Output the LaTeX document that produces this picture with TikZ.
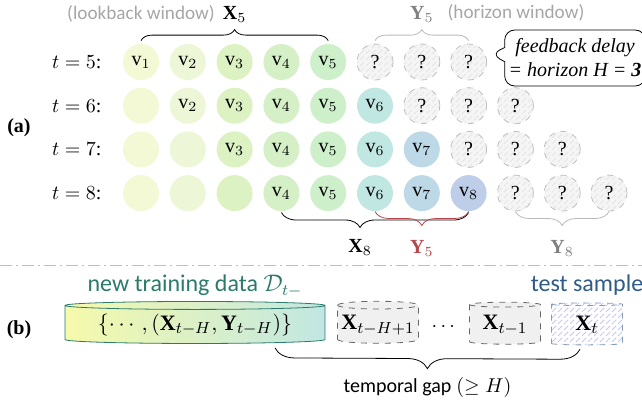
\documentclass[tikz,border=0pt]{standalone}
\usepackage{amsmath}
\usepackage{amssymb}
\usepackage{fontspec}
\setmainfont{Liberation Serif}
\setsansfont{Carlito}
\usepackage{tikz}
\usetikzlibrary{positioning, calc, decorations.pathreplacing, shapes.geometric, shapes.callouts, patterns}
\definecolor{col1}{HTML}{F3F8D5}
\definecolor{col2}{HTML}{EEF6D8}
\definecolor{col3}{HTML}{DCF2C2}
\definecolor{col4}{HTML}{D5F0C6}
\definecolor{col5}{HTML}{CDEFCA}
\definecolor{col6}{HTML}{C1E7E3}
\definecolor{col7}{HTML}{BDD8E7}
\definecolor{col8}{HTML}{BECDE8}
\definecolor{tealtxt}{HTML}{2B7A6C}
\definecolor{bluetxt}{HTML}{2F5B88}
\definecolor{redlbl}{HTML}{B5474B}
\newcommand\cylfont{\fontsize{11}{13}\selectfont}
\newcommand\winfont{\sffamily\fontsize{9.6}{12}\selectfont}
\newcommand\bigsf{\sffamily\fontsize{12}{14}\selectfont}
\tikzset{
  val/.style={circle, minimum size=18pt, inner sep=0pt},
  unk/.style={val, draw=gray!50, dashed, preaction={fill=gray!8}, pattern=north east lines, pattern color=gray!20},
  topbrace/.style={decorate, decoration={brace, amplitude=5.5pt}},
  lowbrace/.style={decorate, decoration={brace, mirror, amplitude=#1}},
  lbl/.style={font=\winfont, text=gray!70, inner sep=1pt},
  fbbox/.style={rectangle callout, draw, rounded corners=5pt, align=center, font=\itshape, inner sep=2pt, minimum width=66pt, minimum height=28pt},
  cyl/.style={cylinder, shape border rotate=90, aspect=0.1, minimum height=21pt, inner sep=1pt, font=\cylfont},
  oldx/.style={draw=gray!80!black, dashed, fill=gray!12},
  newx/.style={draw=bluetxt!60, dashed, preaction={fill=white}, pattern=north east lines, pattern color=blue!22},
  sepline/.style={gray!50, dash pattern=on 6pt off 2pt on 1pt off 2pt}
}

\begin{document}
\begin{tikzpicture}[x=0.5pt, y=-0.5pt]
  \useasboundingbox (0,0) rectangle (642,402);
  \foreach \r in {1,...,4} {
    \pgfmathtruncatemacro\tval{\r+4}
    \pgfmathsetmacro\y{62+43.7*(\r-1)}
    \foreach \c in {1,...,11} {
      \pgfmathsetmacro\x{141+46.8*(\c-1)}
      \ifnum\c<\r
        \node[val, fill=col\c] (v\r-\c) at (\x,\y) {};
      \else\ifnum\c<\numexpr\r+5\relax
        \node[val, fill=col\c] (v\r-\c) at (\x,\y) {$\mathrm{v}_{\c}$};
      \else\ifnum\c<\numexpr\r+8\relax
        \node[unk] (v\r-\c) at (\x,\y) {?};
      \fi\fi\fi
    }
    \node[left=7pt of v\r-1] (t\r) {$t = \tval$:};
  }
  \node[font=\bfseries] (lbla) at (19,128) {(a)};
  \draw[topbrace] ([yshift=1.5pt]v1-1.north) -- ([yshift=1.5pt]v1-5.north);
  \node[above=7pt of {$(v1-1.north)!0.5!(v1-5.north)$}] (x5) {$\mathbf{X}_5$};
  \node[lbl] (lookback) at (141,14) {(lookback window)};
  \draw[topbrace, gray!55] ([yshift=1.5pt]v1-6.north) -- ([yshift=1.5pt]v1-8.north);
  \node[text=gray, above=7pt of {$(v1-6.north)!0.5!(v1-8.north)$}] (y5) {$\mathbf{Y}_5$};
  \node[lbl] (horizon) at (516,13) {(horizon window)};
  \node[fbbox, callout absolute pointer={([shift={(2pt,4pt)}]v1-8.east)}] (fb) at (575,58) {feedback delay\\= horizon H = \textbf{3}};
  \draw[lowbrace=7.5pt, decoration={aspect=0.42}] ([yshift=-0.5pt]v4-4.south) -- ([yshift=-0.5pt]v4-8.south) node[pos=0.42, below=10pt] (x8) {$\mathbf{X}_8$};
  \draw[lowbrace=7pt, redlbl] (v4-6.south) -- (v4-8.south) node[midway, below=11pt] (y5b) {$\mathbf{Y}_5$};
  \draw[lowbrace=7pt, gray!55] (v4-9.south) -- (v4-11.south) node[midway, below=11pt, text=gray] (y8) {$\mathbf{Y}_8$};
  \draw[sepline] (0,265) -- (642,265);
  \node[font=\bfseries] (lblb) at (19,330) {(b)};
  \node[cyl, aspect=0.04, draw=tealtxt, left color=col1!80!yellow, right color=col6, minimum width=130pt] (db) at (195,325) {$\{\cdots,(\mathbf{X}_{t-H},\mathbf{Y}_{t-H})\}$};
  \node[font=\bigsf, text=tealtxt] (newdata) at (195,286) {new training data $\mathcal{D}_{t-}$};
  \node[cyl, oldx, minimum width=40.5pt] (xa) at (378,325) {$\mathbf{X}_{t-H+1}$};
  \node (dots) at (445,327) {$\cdots$};
  \node[cyl, oldx, minimum width=35.5pt] (xb) at (505,325) {$\mathbf{X}_{t-1}$};
  \node[cyl, newx, minimum width=35.5pt] (xt) at (587,325) {$\mathbf{X}_t$};
  \node[font=\bigsf, text=bluetxt] (test) at (587,285) {test sample};
  \draw[lowbrace=10pt] ([shift={(40pt,-2pt)}]db.south) -- ([shift={(-3.5pt,-2pt)}]xt.south) node[midway, below=11pt, text=black] (gap) {{\sffamily temporal gap} $(\geq H)$};
\end{tikzpicture}
\end{document}
